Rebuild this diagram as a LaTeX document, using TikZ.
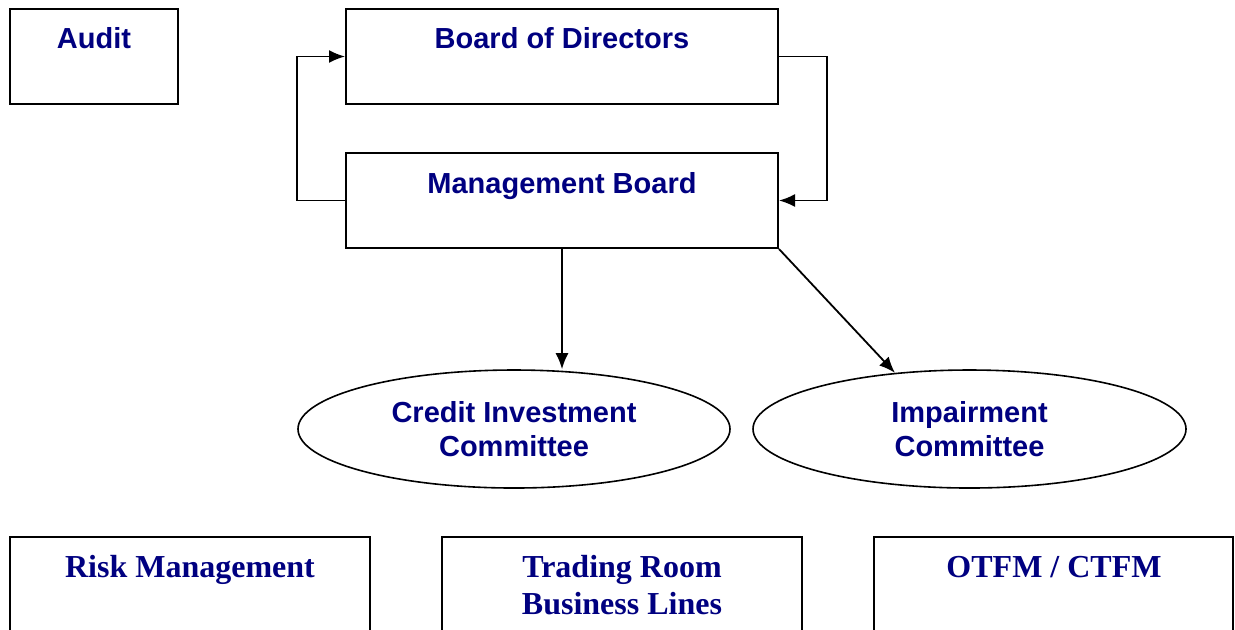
\documentclass[tikz,border=0pt]{standalone}
\usepackage{fontspec}
\setmainfont{Liberation Serif}
\setsansfont{Liberation Sans}
\usetikzlibrary{shapes.geometric}
\usetikzlibrary{arrows.meta}
\usetikzlibrary{positioning}
\definecolor{orgblue}{HTML}{000080}
\tikzset{
  unit/.style = {draw, line width=1pt, inner sep=0pt},
  committee/.style = {draw, ellipse, line width=0.8pt, inner sep=0pt, align=center,
    text=orgblue, font=\sffamily\bfseries\fontsize{14.5}{17}\selectfont},
  headtxt/.style = {anchor=base, text=orgblue, font=\sffamily\bfseries\fontsize{14.5}{17}\selectfont},
  desktxt/.style = {anchor=base, text=orgblue, align=center, font=\rmfamily\bfseries\fontsize{16}{18.5}\selectfont},
  arr/.style = {line width=0.9pt, -{Latex[length=8pt,width=6.5pt]}}
}

\begin{document}
\begin{tikzpicture}[x=0.5pt, y=-0.5pt]
                \useasboundingbox (0,0) rectangle (1235,629);
                % top boxes
                \node[unit, minimum width=168*0.5pt, minimum height=95*0.5pt] (audit) at (94,56.5) {};
                \node[unit, minimum width=432*0.5pt, minimum height=95*0.5pt] (bod) at (562,56.5) {};
                \node[unit, minimum width=432*0.5pt, minimum height=95*0.5pt] (mgmt) at (562,200.5) {};
                \node[headtxt] (audittxt) at (94,48.5) {Audit};
                \node[headtxt] (bodtxt) at (562,48.5) {Board of Directors};
                \node[headtxt] (mgmttxt) at (562,193) {Management Board};
                % committees
                \node[committee, minimum width=432*0.5pt, minimum height=118*0.5pt] (cic) at (514,429) {Credit Investment\\Committee};
                \node[committee, minimum width=433*0.5pt, minimum height=118*0.5pt] (ic) at (969.5,429) {Impairment\\Committee};
                % bottom boxes
                \node[unit, minimum width=360*0.5pt, minimum height=97*0.5pt] (risk) at (190,585.5) {};
                \node[unit, minimum width=360*0.5pt, minimum height=97*0.5pt] (trade) at (622,585.5) {};
                \node[unit, minimum width=359*0.5pt, minimum height=97*0.5pt] (otfm) at (1053.5,585.5) {};
                \node[desktxt] (risktxt) at (190,577.5) {Risk Management};
                \node[desktxt] (tradetxt) at (622,614.5) {Trading Room\\Business Lines};
                \node[desktxt] (otfmtxt) at (1054,577.5) {OTFM / CTFM};
                % connectors
                \draw[arr] (mgmt.west) -- ++(-48,0) |- (bod.west);
                \draw[arr] (bod.east) -- ++(48,0) |- (mgmt.east);
                \draw[arr] (mgmt.south) -- (cic.north -| mgmt.south);
                \draw[arr] (mgmt.south east) -- (ic.143);
\end{tikzpicture}
\end{document}
